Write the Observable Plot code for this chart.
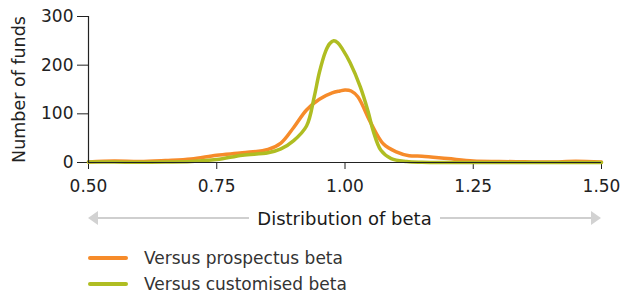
<!DOCTYPE html>
<html>
<head>
<meta charset="utf-8">
<script src="https://cdn.jsdelivr.net/npm/d3@7"></script>
<script src="https://cdn.jsdelivr.net/npm/@observablehq/plot@0.6"></script>
<style>
  body { margin: 0; background: #fff; font-family: "DejaVu Sans", sans-serif; color: #222; }
  #wrap { width: 621px; }
  .arrowrow { position: relative; height: 30px; margin-top: 3px; margin-left: 88px; width: 513px; display: flex; align-items: center; }
  .arrowrow .line { flex: 1; height: 1.5px; background: #cfcfcf; }
  .arrowrow .lab { font-size: 18px; padding: 0 8px; color: #1a1a1a; }
  .arrowrow .hl { width: 0; height: 0; border-top: 7px solid transparent; border-bottom: 7px solid transparent; border-right: 10px solid #d2d2d2; }
  .arrowrow .hr { width: 0; height: 0; border-top: 7px solid transparent; border-bottom: 7px solid transparent; border-left: 10px solid #d2d2d2; }
  .legend { margin-left: 88px; margin-top: 12px; }
  .legend .item { display: flex; align-items: center; height: 26px; font-size: 17px; color: #333; }
  .legend .sw { width: 40px; height: 4px; border-radius: 2px; margin-right: 16px; }
  g[aria-label="y-axis label"] text { font-size: 17.5px; }
</style>
</head>
<body>
<div id="wrap">
  <div id="chart"></div>
  <div class="arrowrow"><div class="hl"></div><div class="line"></div><div class="lab">Distribution of beta</div><div class="line"></div><div class="hr"></div></div>
  <div class="legend" id="legend"></div>
</div>
<script>
const seriesNames = ["Versus prospectus beta", "Versus customised beta"];
const seriesColors = ["#F68B2A", "#AFBD22"];

const prospectusBeta = [0.50,0.55,0.60,0.65,0.70,0.75,0.80,0.85,0.875,0.90,0.925,0.95,0.975,0.99,1.00,1.012,1.025,1.05,1.075,1.10,1.125,1.15,1.20,1.25,1.30,1.35,1.40,1.45,1.50];
const prospectusFunds = [1,3,2,4,7,15,20,27,40,72,108,130,143,147,149,147,135,82,38,22,14,13,8,3,2,1.5,1,2.5,1];

const customisedBeta = [0.50,0.55,0.60,0.65,0.70,0.75,0.80,0.85,0.875,0.90,0.925,0.94,0.95,0.962,0.97,0.978,0.986,0.995,1.01,1.03,1.045,1.055,1.07,1.09,1.12,1.15,1.20,1.30,1.40,1.50];
const customisedFunds = [1,1,0.5,1,2,6,15,20,28,45,75,135,185,228,244,250,246,233,205,155,105,65,25,8,2,0.5,0,0,0,0];

const xTicks = [0.5, 0.75, 1.0, 1.25, 1.5];
const yTicks = [0, 100, 200, 300];

const rows = [
  ...prospectusBeta.map((b, i) => ({beta: b, funds: prospectusFunds[i], series: seriesNames[0]})),
  ...customisedBeta.map((b, i) => ({beta: b, funds: customisedFunds[i], series: seriesNames[1]}))
];

const chart = Plot.plot({
  width: 621,
  height: 200,
  marginTop: 16,
  marginBottom: 38,
  marginLeft: 88,
  marginRight: 20,
  style: {fontFamily: "DejaVu Sans, sans-serif", fontSize: "17px", color: "#222"},
  x: {domain: [0.5, 1.5], ticks: xTicks, tickFormat: d3.format(".2f"), tickSize: 7, tickPadding: 10, label: null},
  y: {domain: [0, 300], ticks: yTicks, tickSize: 11, tickPadding: 4, label: "Number of funds", labelAnchor: "center", labelArrow: "none", labelOffset: 76},
  color: {domain: seriesNames, range: seriesColors},
  marks: [
    Plot.line(rows, {x: "beta", y: "funds", z: "series", stroke: "series", strokeWidth: 3.5, curve: "catmull-rom", strokeLinejoin: "round", strokeLinecap: "round"}),
    Plot.ruleY([0], {stroke: "#222", strokeWidth: 1.2}),
    Plot.ruleX([0.5], {stroke: "#222", strokeWidth: 1.2})
  ]
});
document.getElementById("chart").appendChild(chart);

const legend = document.getElementById("legend");
seriesNames.forEach((n, i) => {
  const it = document.createElement("div");
  it.className = "item";
  it.innerHTML = `<div class="sw" style="background:${seriesColors[i]}"></div><span>${n}</span>`;
  legend.appendChild(it);
});
</script>
</body>
</html>
